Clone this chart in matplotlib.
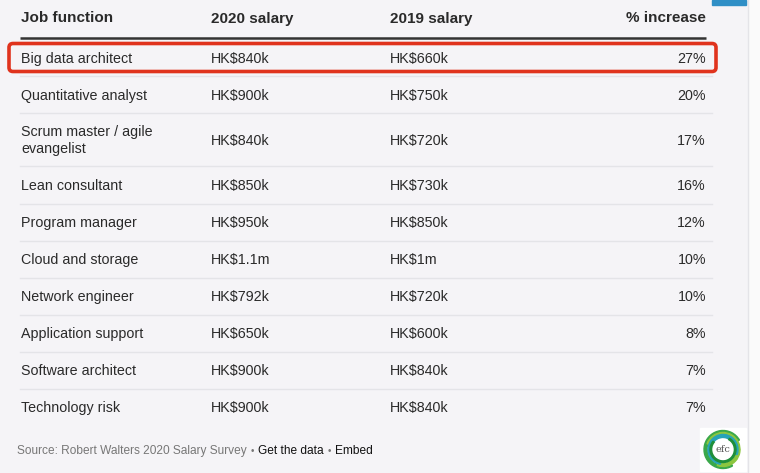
import matplotlib
matplotlib.use("Agg")
import matplotlib.pyplot as plt
from matplotlib.patches import FancyBboxPatch, Rectangle, Circle, Wedge

headers = ["Job function", "2020 salary", "2019 salary", "% increase"]
jobs = ["Big data architect", "Quantitative analyst", "Scrum master / agile\nevangelist",
        "Lean consultant", "Program manager", "Cloud and storage", "Network engineer",
        "Application support", "Software architect", "Technology risk"]
salary_2020 = ["HK$840k", "HK$900k", "HK$840k", "HK$850k", "HK$950k", "HK$1.1m",
               "HK$792k", "HK$650k", "HK$900k", "HK$900k"]
salary_2019 = ["HK$660k", "HK$750k", "HK$720k", "HK$730k", "HK$850k", "HK$1m",
               "HK$720k", "HK$600k", "HK$840k", "HK$840k"]
pct_increase = [27, 20, 17, 16, 12, 10, 10, 8, 7, 7]
source_text = "Source: Robert Walters 2020 Salary Survey"
link_texts = ["Get the data", "Embed"]

W, H = 760, 473
fig = plt.figure(figsize=(W / 100, H / 100), dpi=100)
fig.patch.set_facecolor("#f5f4f7")
ax = fig.add_axes([0, 0, 1, 1])
ax.set_xlim(0, W)
ax.set_ylim(H, 0)
ax.axis("off")

FONT = "Liberation Sans"
txt = "#2a2a2a"

# right strip
ax.add_patch(Rectangle((748, 0), 12, H, color="#fafafa", zorder=0))
ax.plot([748, 748], [0, H], color="#e4e4e8", lw=1, zorder=1)
ax.add_patch(Rectangle((712, 0), 34, 5, color="#2f8fc6", zorder=2))

col_x = [21, 211, 390, 706]
header_y = 18.5
for i, h in enumerate(headers):
    ax.text(col_x[i], header_y, h, fontsize=11, fontweight="bold", family=FONT,
            color=txt, ha="right" if i == 3 else "left", va="center")
ax.plot([20, 706], [38.5, 38.5], color="#333333", lw=1.8, solid_capstyle="butt")

# row layout
row_heights = [37 if "\n" not in j else 53 for j in jobs]
y = 39.5
seps = []
centers = []
for rh in row_heights:
    centers.append(y + rh / 2 + 0.8)
    y += rh
    seps.append(y)

FS = 10.3
for k, (j, s20, s19, p) in enumerate(zip(jobs, salary_2020, salary_2019, pct_increase)):
    cy = centers[k]
    ax.text(col_x[0], cy, j, fontsize=FS, family=FONT, color=txt, ha="left",
            va="center", linespacing=1.3)
    ax.text(col_x[1], cy, s20, fontsize=FS, family=FONT, color=txt, ha="left", va="center")
    ax.text(col_x[2], cy, s19, fontsize=FS, family=FONT, color=txt, ha="left", va="center")
    ax.text(col_x[3], cy, f"{p}%", fontsize=FS, family=FONT, color=txt, ha="right", va="center")

for s in seps[:-1]:
    ax.plot([20, 712], [s, s], color="#e4e4e8", lw=1)

# highlight box
ax.add_patch(FancyBboxPatch((9, 43.5), 707, 28, boxstyle="round,pad=0,rounding_size=4",
                            fill=False, edgecolor="#e0331d", lw=2.6, zorder=5))

# source line
SY = 450.5
t = ax.text(17, SY, source_text, fontsize=8.6, family=FONT, color="#777777",
            ha="left", va="center")
fig.canvas.draw()
r = fig.canvas.get_renderer()
inv = ax.transData.inverted()
x = t.get_window_extent(r).x1
for lt in link_texts:
    d = ax.text(inv.transform((x + 4, 0))[0], SY, "\u2022", fontsize=7, family=FONT,
                color="#777777", ha="left", va="center")
    fig.canvas.draw()
    bx = d.get_window_extent(r).x1
    tl = ax.text(inv.transform((bx + 4, 0))[0], SY, lt, fontsize=8.6,
                 family=FONT, color="#111111", ha="left", va="center")
    fig.canvas.draw()
    x = tl.get_window_extent(r).x1

# logo
ax.add_patch(Rectangle((700, 428), 46, 43, color="white", zorder=3))
cx, cy = 723, 449.5
for (r1, th1, th2, col) in [(19, 60, 330, "#3aa84a"), (17, 200, 110, "#8cc63f"),
                            (15, 100, 20, "#27a3b7"), (13, 300, 220, "#1f8f3a")]:
    ax.add_patch(Wedge((cx, cy), r1, th1, th2, width=3, color=col, zorder=4))
ax.add_patch(Circle((cx, cy), 10, color="white", zorder=5))
ax.text(cx, cy, "efc", fontsize=7, family="DejaVu Serif", color="#555555",
        ha="center", va="center", zorder=6)

fig.savefig("out.png", dpi=100, facecolor=fig.get_facecolor())
